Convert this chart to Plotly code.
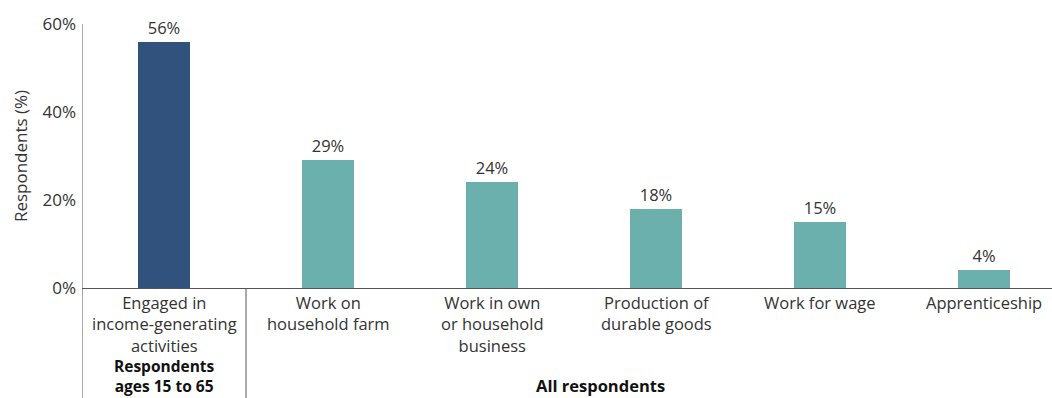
import plotly.graph_objects as go

# Share of respondents by activity
categories = [
    "Engaged in<br>income-generating<br>activities",
    "Work on<br>household farm",
    "Work in own<br>or household<br>business",
    "Production of<br>durable goods",
    "Work for wage",
    "Apprenticeship",
]
values = [56, 29, 24, 18, 15, 4]
bar_colors = ["#30527c", "#6cb0ae", "#6cb0ae", "#6cb0ae", "#6cb0ae", "#6cb0ae"]
y_ticks = [0, 20, 40, 60]
y_tick_labels = ["0%", "20%", "40%", "60%"]
group_labels = ["Respondents<br>ages 15 to 65", "All respondents"]

FONT = "Open Sans"
TEXT = "#333333"
AXIS = "#555555"

x_pos = list(range(len(categories)))

fig = go.Figure()
fig.add_trace(go.Bar(
    x=x_pos,
    y=values,
    width=0.32,
    marker=dict(color=bar_colors, line=dict(width=0)),
    text=[f"{v}%" for v in values],
    textposition="outside",
    textfont=dict(family=FONT, size=16.5, color=TEXT),
    cliponaxis=False,
    hoverinfo="skip",
))

# Category labels under the axis
for xi, label in zip(x_pos, categories):
    fig.add_annotation(
        x=xi, xref="x", y=0, yref="y",
        text=label, showarrow=False,
        yanchor="top", xanchor="center", yshift=-1,
        font=dict(family=FONT, size=16.5, color=TEXT),
        align="center",
    )

# Group labels
fig.add_annotation(
    x=0, xref="x", y=0, yref="paper", yanchor="bottom", yshift=-111,
    text=f"<b>{group_labels[0]}</b>", showarrow=False,
    font=dict(family=FONT, size=15.5, color="#111111"), align="center",
)
fig.add_annotation(
    x=2.66, xref="x", y=0, yref="paper", yanchor="bottom", yshift=-111,
    text=f"<b>{group_labels[1]}</b>", showarrow=False,
    font=dict(family=FONT, size=16.5, color="#111111"), align="center",
)

# Vertical rules: y axis extended down, and the group separator
fig.add_shape(type="line", xref="x", yref="paper", x0=-0.5, x1=-0.5,
              y0=1, y1=-110 / 264, line=dict(color=AXIS, width=1))
fig.add_shape(type="line", xref="x", yref="paper", x0=0.5, x1=0.5,
              y0=0, y1=-110 / 264, line=dict(color=AXIS, width=1))

fig.update_xaxes(
    range=[-0.5, -0.5 + 970 / 164],
    showticklabels=False, showgrid=False, zeroline=False,
    showline=False, ticks="",
)
fig.update_yaxes(
    range=[0, 60],
    tickvals=y_ticks, ticktext=y_tick_labels,
    showgrid=False, zeroline=True, zerolinecolor=AXIS, zerolinewidth=1,
    showline=False, ticks="", ticklabelstandoff=5,
    tickfont=dict(family=FONT, size=17, color=TEXT),
    title=dict(text="Respondents (%)", standoff=10,
               font=dict(family=FONT, size=17, color=TEXT)),
)

fig.update_layout(
    width=1052, height=398,
    margin=dict(l=82, r=0, t=24, b=110),
    plot_bgcolor="white", paper_bgcolor="white",
    showlegend=False, bargap=0,
)

fig.write_html("out.html")
